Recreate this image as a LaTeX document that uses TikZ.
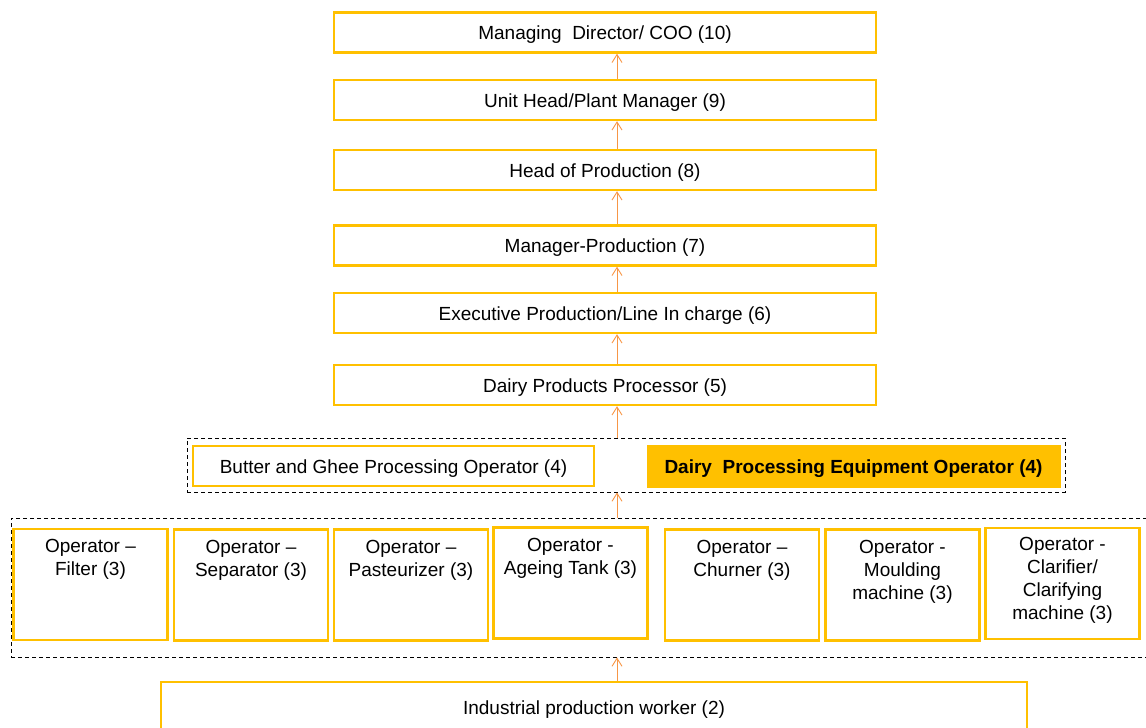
\documentclass[tikz,border=0pt]{standalone}
\usepackage{fontspec}
\setmainfont{Liberation Sans}
\usetikzlibrary{arrows.meta}
\definecolor{gold}{HTML}{FFC000}
\definecolor{arrorange}{HTML}{F79646}
\begin{document}
\begin{tikzpicture}[x=1pt,y=1pt,
  box/.style={draw=gold, line width=2.4pt, fill=white, minimum width=542, minimum height=40, inner sep=0pt, text height=16pt, text depth=2pt, font=\fontsize{19}{23}\selectfont},
  opbox/.style={draw=gold, line width=2.4pt, fill=white, minimum width=154, minimum height=111, inner sep=0pt},
  optext/.style={anchor=north, align=center, inner sep=0pt, font=\fontsize{19}{23}\selectfont},
  grp/.style={draw=black, dashed, dash pattern=on 4pt off 3pt, line width=0.9pt, inner sep=0pt},
  arr/.style={draw=arrorange, line width=0.9pt, -{Straight Barb[length=8pt,width=10pt]}}
]
\useasboundingbox (0,0) rectangle (1146,-728);
\clip (0,0) rectangle (1146,-728);
\coordinate (ax) at (617,0);
% top chain
\node[box] (n10) at (605,-32.5) {Managing\ \ Director/ COO (10)};
\node[box] (n9) at (605,-100) {Unit Head/Plant Manager (9)};
\node[box] (n8) at (605,-170) {Head of Production (8)};
\node[box] (n7) at (605,-245.5) {Manager-Production (7)};
\node[box] (n6) at (605,-313) {Executive Production/Line In charge (6)};
\node[box] (n5) at (605,-385) {Dairy Products Processor (5)};
% level 4 group
\node[grp, minimum width=878, minimum height=54] (g4) at (626,-465) {};
\node[box, minimum width=401, minimum height=40] (n4a) at (393.5,-466) {Butter and Ghee Processing Operator (4)};
\node[draw=gold, fill=gold, line width=0.5pt, minimum width=413, minimum height=42, inner sep=0pt, text height=16pt, text depth=2pt, font=\bfseries\fontsize{19}{23}\selectfont] (n4b) at (853.5,-466) {Dairy\ \ Processing Equipment Operator (4)};
% level 3 group
\node[grp, minimum width=1139, minimum height=139] (g3) at (580.5,-587.5) {};
\node[opbox] (o1) at (90.5,-584.5) {};
\node[opbox] (o2) at (251,-585) {};
\node[opbox] (o3) at (411,-585) {};
\node[opbox] (o4) at (570.5,-583) {};
\node[opbox] (o5) at (742,-585) {};
\node[opbox] (o6) at (902.5,-585) {};
\node[opbox] (o7) at (1062.5,-583.5) {};
\node[optext] (t1) at ([yshift=-11.5]o1.north) {Operator –\\Filter (3)};
\node[optext] (t2) at ([yshift=-11.5]o2.north) {Operator –\\Separator (3)};
\node[optext] (t3) at ([yshift=-11.5]o3.north) {Operator –\\Pasteurizer (3)};
\node[optext] (t4) at ([yshift=-11.5]o4.north) {Operator -\\Ageing Tank (3)};
\node[optext] (t5) at ([yshift=-11.5]o5.north) {Operator –\\Churner (3)};
\node[optext] (t6) at ([yshift=-11.5]o6.north) {Operator -\\Moulding\\machine (3)};
\node[optext] (t7) at ([yshift=-10.5]o7.north) {Operator -\\Clarifier/\\Clarifying\\machine (3)};
% bottom
\node[box, minimum width=866, minimum height=92] (n2) at (594,-728) {};
\node[optext, anchor=base] (t2b) at (594,-714.5) {Industrial production worker (2)};
% arrows
\draw[arr] (n9.north -| ax) -- (n10.south -| ax);
\draw[arr] (n8.north -| ax) -- (n9.south -| ax);
\draw[arr] (n7.north -| ax) -- (n8.south -| ax);
\draw[arr] (n6.north -| ax) -- (n7.south -| ax);
\draw[arr] (n5.north -| ax) -- (n6.south -| ax);
\draw[arr] (g4.north -| ax) -- (n5.south -| ax);
\draw[arr] (g3.north -| ax) -- (g4.south -| ax);
\draw[arr] (n2.north -| ax) -- (g3.south -| ax);
\end{tikzpicture}
\end{document}
